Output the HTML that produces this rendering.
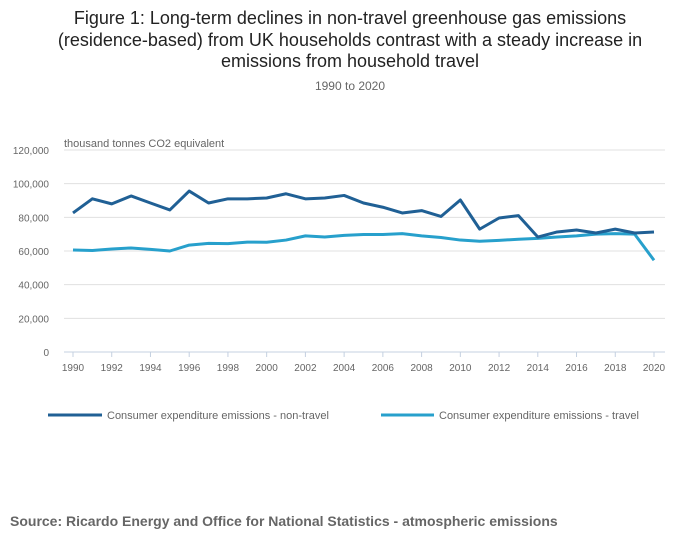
<!DOCTYPE html>
<html><head><meta charset="utf-8"><style>
body{margin:0;background:#fff;font-family:"Liberation Sans",sans-serif;}
#wrap{position:relative;width:700px;height:549px;overflow:hidden;}
</style></head><body>
<div id="wrap">
<svg id="svg" width="700" height="549">
<text x="350" y="24" text-anchor="middle" font-size="18" fill="#222">Figure 1: Long-term declines in non-travel greenhouse gas emissions</text>
<text x="350" y="46" text-anchor="middle" font-size="18" fill="#222">(residence-based) from UK households contrast with a steady increase in</text>
<text x="350" y="67" text-anchor="middle" font-size="18" fill="#222">emissions from household travel</text>
<text x="350" y="90" text-anchor="middle" font-size="12" fill="#666">1990 to 2020</text>
<text x="64" y="147" font-size="11" fill="#666">thousand tonnes CO2 equivalent</text>
<g id="grid"></g><g id="lines"></g>
<line x1="48" y1="415" x2="102" y2="415" stroke="#206095" stroke-width="3"/>
<text x="107" y="419" font-size="11" fill="#666">Consumer expenditure emissions - non-travel</text>
<line x1="381" y1="415" x2="434" y2="415" stroke="#27a0cc" stroke-width="3"/>
<text x="439" y="419" font-size="11" fill="#666">Consumer expenditure emissions - travel</text>
<text x="10" y="526" font-size="14" font-weight="bold" fill="#666">Source: Ricardo Energy and Office for National Statistics - atmospheric emissions</text>
</svg></div>
<script>
const years=[];for(let y=1990;y<=2020;y++)years.push(y);
const nonTravel=[82.6,91,88,92.7,88.5,84.4,95.6,88.5,91,91,91.5,94,91,91.5,93,88.5,86,82.6,84,80.5,90.3,73,79.6,81,68.3,71.3,72.5,70.7,73,70.7,71.3];
const travel=[60.6,60.3,61.2,61.8,61,60,63.5,64.5,64.4,65.3,65.2,66.5,69,68.3,69.3,69.8,69.8,70.3,69,68,66.5,65.8,66.3,67,67.5,68.3,69,70,70.3,70,54.5];
const yTicks=[0,20000,40000,60000,80000,100000,120000];
const xTicks=[1990,1992,1994,1996,1998,2000,2002,2004,2006,2008,2010,2012,2014,2016,2018,2020];
const NS="http://www.w3.org/2000/svg";
const x=v=>73+(v-1990)*(654-73)/30;
const y=v=>352-v*(352-150)/120000;
const grid=document.getElementById('grid'),lines=document.getElementById('lines');
function mk(tag,attrs,parent){const e=document.createElementNS(NS,tag);for(const k in attrs)e.setAttribute(k,attrs[k]);parent.appendChild(e);return e;}
yTicks.forEach(t=>{
 const l=mk('line',{x1:64,x2:665,y1:y(t),y2:y(t),stroke:t===0?'#c4d0e0':'#e0e0e0','stroke-width':1},grid);
 
 
 const tx=mk('text',{x:49,y:y(t)+4,'text-anchor':'end','font-size':10,fill:'#666'},grid);
 tx.textContent=t.toLocaleString('en-GB');
 
 
});
xTicks.forEach(t=>{
 const l=mk('line',{x1:x(t),x2:x(t),y1:352,y2:357,stroke:'#c4d0e0'},grid);
 
 
 const tx=mk('text',{x:x(t),y:371,'text-anchor':'middle','font-size':10,fill:'#666'},grid);
 tx.textContent=t;
 
 
});
function series(vals,color,name){
 const p=mk('polyline',{points:vals.map((v,i)=>x(years[i])+','+y(v*1000)).join(' '),fill:'none',stroke:color,'stroke-width':3,'stroke-linejoin':'round'},lines);
 
 
}
series(travel,'#27a0cc','line-travel');
series(nonTravel,'#206095','line-non-travel');
</script>
</body></html>
